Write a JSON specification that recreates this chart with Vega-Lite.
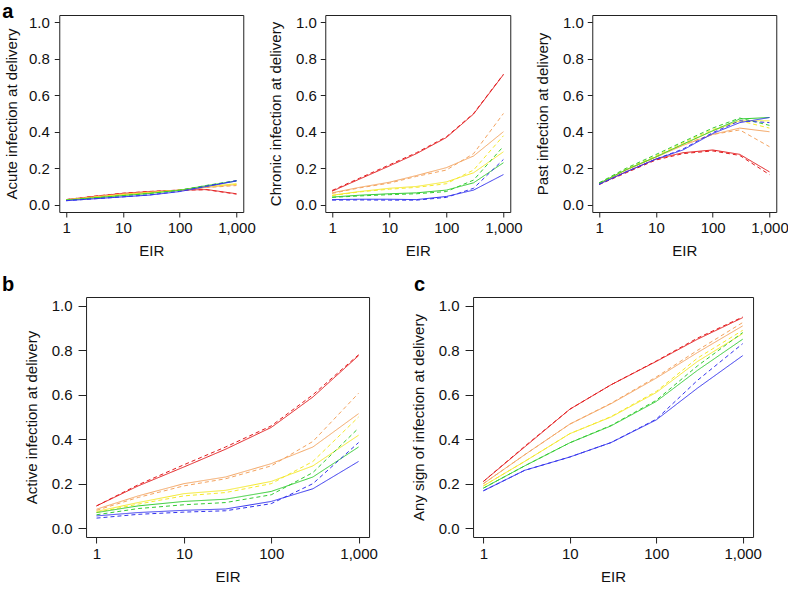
{
"$schema": "https://vega.github.io/schema/vega-lite/v6.json",
"padding": {"left": 1, "top": 1, "right": 0, "bottom": 0},
"background": "white",
"datasets": {"d": [
{"p":"A","g":"r","t":"s","x":1,"v":0.028},{"p":"A","g":"r","t":"s","x":3,"v":0.045},{"p":"A","g":"r","t":"s","x":10,"v":0.062},{"p":"A","g":"r","t":"s","x":30,"v":0.072},{"p":"A","g":"r","t":"s","x":100,"v":0.080},{"p":"A","g":"r","t":"s","x":300,"v":0.083},{"p":"A","g":"r","t":"s","x":1000,"v":0.060},
{"p":"A","g":"r","t":"d","x":1,"v":0.028},{"p":"A","g":"r","t":"d","x":3,"v":0.046},{"p":"A","g":"r","t":"d","x":10,"v":0.063},{"p":"A","g":"r","t":"d","x":30,"v":0.073},{"p":"A","g":"r","t":"d","x":100,"v":0.080},{"p":"A","g":"r","t":"d","x":300,"v":0.082},{"p":"A","g":"r","t":"d","x":1000,"v":0.058},
{"p":"A","g":"o","t":"s","x":1,"v":0.027},{"p":"A","g":"o","t":"s","x":3,"v":0.042},{"p":"A","g":"o","t":"s","x":10,"v":0.058},{"p":"A","g":"o","t":"s","x":30,"v":0.068},{"p":"A","g":"o","t":"s","x":100,"v":0.079},{"p":"A","g":"o","t":"s","x":300,"v":0.095},{"p":"A","g":"o","t":"s","x":1000,"v":0.110},
{"p":"A","g":"o","t":"d","x":1,"v":0.027},{"p":"A","g":"o","t":"d","x":3,"v":0.043},{"p":"A","g":"o","t":"d","x":10,"v":0.059},{"p":"A","g":"o","t":"d","x":30,"v":0.069},{"p":"A","g":"o","t":"d","x":100,"v":0.080},{"p":"A","g":"o","t":"d","x":300,"v":0.094},{"p":"A","g":"o","t":"d","x":1000,"v":0.105},
{"p":"A","g":"y","t":"s","x":1,"v":0.026},{"p":"A","g":"y","t":"s","x":3,"v":0.040},{"p":"A","g":"y","t":"s","x":10,"v":0.055},{"p":"A","g":"y","t":"s","x":30,"v":0.066},{"p":"A","g":"y","t":"s","x":100,"v":0.080},{"p":"A","g":"y","t":"s","x":300,"v":0.100},{"p":"A","g":"y","t":"s","x":1000,"v":0.115},
{"p":"A","g":"y","t":"d","x":1,"v":0.026},{"p":"A","g":"y","t":"d","x":3,"v":0.040},{"p":"A","g":"y","t":"d","x":10,"v":0.055},{"p":"A","g":"y","t":"d","x":30,"v":0.066},{"p":"A","g":"y","t":"d","x":100,"v":0.080},{"p":"A","g":"y","t":"d","x":300,"v":0.100},{"p":"A","g":"y","t":"d","x":1000,"v":0.112},
{"p":"A","g":"g","t":"s","x":1,"v":0.025},{"p":"A","g":"g","t":"s","x":3,"v":0.037},{"p":"A","g":"g","t":"s","x":10,"v":0.050},{"p":"A","g":"g","t":"s","x":30,"v":0.062},{"p":"A","g":"g","t":"s","x":100,"v":0.079},{"p":"A","g":"g","t":"s","x":300,"v":0.105},{"p":"A","g":"g","t":"s","x":1000,"v":0.130},
{"p":"A","g":"g","t":"d","x":1,"v":0.025},{"p":"A","g":"g","t":"d","x":3,"v":0.037},{"p":"A","g":"g","t":"d","x":10,"v":0.050},{"p":"A","g":"g","t":"d","x":30,"v":0.062},{"p":"A","g":"g","t":"d","x":100,"v":0.080},{"p":"A","g":"g","t":"d","x":300,"v":0.106},{"p":"A","g":"g","t":"d","x":1000,"v":0.132},
{"p":"A","g":"b","t":"s","x":1,"v":0.022},{"p":"A","g":"b","t":"s","x":3,"v":0.032},{"p":"A","g":"b","t":"s","x":10,"v":0.043},{"p":"A","g":"b","t":"s","x":30,"v":0.053},{"p":"A","g":"b","t":"s","x":100,"v":0.072},{"p":"A","g":"b","t":"s","x":300,"v":0.100},{"p":"A","g":"b","t":"s","x":1000,"v":0.130},
{"p":"A","g":"b","t":"d","x":1,"v":0.022},{"p":"A","g":"b","t":"d","x":3,"v":0.032},{"p":"A","g":"b","t":"d","x":10,"v":0.043},{"p":"A","g":"b","t":"d","x":30,"v":0.054},{"p":"A","g":"b","t":"d","x":100,"v":0.073},{"p":"A","g":"b","t":"d","x":300,"v":0.102},{"p":"A","g":"b","t":"d","x":1000,"v":0.132},

{"p":"C","g":"r","t":"s","x":1,"v":0.074},{"p":"C","g":"r","t":"s","x":3,"v":0.140},{"p":"C","g":"r","t":"s","x":10,"v":0.212},{"p":"C","g":"r","t":"s","x":30,"v":0.280},{"p":"C","g":"r","t":"s","x":100,"v":0.368},{"p":"C","g":"r","t":"s","x":300,"v":0.497},{"p":"C","g":"r","t":"s","x":1000,"v":0.713},
{"p":"C","g":"r","t":"d","x":1,"v":0.078},{"p":"C","g":"r","t":"d","x":3,"v":0.145},{"p":"C","g":"r","t":"d","x":10,"v":0.218},{"p":"C","g":"r","t":"d","x":30,"v":0.285},{"p":"C","g":"r","t":"d","x":100,"v":0.372},{"p":"C","g":"r","t":"d","x":300,"v":0.500},{"p":"C","g":"r","t":"d","x":1000,"v":0.715},
{"p":"C","g":"o","t":"s","x":1,"v":0.065},{"p":"C","g":"o","t":"s","x":3,"v":0.095},{"p":"C","g":"o","t":"s","x":10,"v":0.123},{"p":"C","g":"o","t":"s","x":30,"v":0.160},{"p":"C","g":"o","t":"s","x":100,"v":0.203},{"p":"C","g":"o","t":"s","x":300,"v":0.267},{"p":"C","g":"o","t":"s","x":1000,"v":0.400},
{"p":"C","g":"o","t":"d","x":1,"v":0.062},{"p":"C","g":"o","t":"d","x":3,"v":0.092},{"p":"C","g":"o","t":"d","x":10,"v":0.118},{"p":"C","g":"o","t":"d","x":30,"v":0.155},{"p":"C","g":"o","t":"d","x":100,"v":0.190},{"p":"C","g":"o","t":"d","x":300,"v":0.280},{"p":"C","g":"o","t":"d","x":1000,"v":0.500},
{"p":"C","g":"y","t":"s","x":1,"v":0.052},{"p":"C","g":"y","t":"s","x":3,"v":0.072},{"p":"C","g":"y","t":"s","x":10,"v":0.090},{"p":"C","g":"y","t":"s","x":30,"v":0.100},{"p":"C","g":"y","t":"s","x":100,"v":0.125},{"p":"C","g":"y","t":"s","x":300,"v":0.175},{"p":"C","g":"y","t":"s","x":1000,"v":0.290},
{"p":"C","g":"y","t":"d","x":1,"v":0.050},{"p":"C","g":"y","t":"d","x":3,"v":0.070},{"p":"C","g":"y","t":"d","x":10,"v":0.085},{"p":"C","g":"y","t":"d","x":30,"v":0.095},{"p":"C","g":"y","t":"d","x":100,"v":0.115},{"p":"C","g":"y","t":"d","x":300,"v":0.190},{"p":"C","g":"y","t":"d","x":1000,"v":0.378},
{"p":"C","g":"g","t":"s","x":1,"v":0.042},{"p":"C","g":"g","t":"s","x":3,"v":0.052},{"p":"C","g":"g","t":"s","x":10,"v":0.060},{"p":"C","g":"g","t":"s","x":30,"v":0.065},{"p":"C","g":"g","t":"s","x":100,"v":0.080},{"p":"C","g":"g","t":"s","x":300,"v":0.120},{"p":"C","g":"g","t":"s","x":1000,"v":0.230},
{"p":"C","g":"g","t":"d","x":1,"v":0.040},{"p":"C","g":"g","t":"d","x":3,"v":0.048},{"p":"C","g":"g","t":"d","x":10,"v":0.055},{"p":"C","g":"g","t":"d","x":30,"v":0.060},{"p":"C","g":"g","t":"d","x":100,"v":0.072},{"p":"C","g":"g","t":"d","x":300,"v":0.135},{"p":"C","g":"g","t":"d","x":1000,"v":0.320},
{"p":"C","g":"b","t":"s","x":1,"v":0.028},{"p":"C","g":"b","t":"s","x":3,"v":0.030},{"p":"C","g":"b","t":"s","x":10,"v":0.030},{"p":"C","g":"b","t":"s","x":30,"v":0.028},{"p":"C","g":"b","t":"s","x":100,"v":0.045},{"p":"C","g":"b","t":"s","x":300,"v":0.080},{"p":"C","g":"b","t":"s","x":1000,"v":0.165},
{"p":"C","g":"b","t":"d","x":1,"v":0.025},{"p":"C","g":"b","t":"d","x":3,"v":0.026},{"p":"C","g":"b","t":"d","x":10,"v":0.025},{"p":"C","g":"b","t":"d","x":30,"v":0.025},{"p":"C","g":"b","t":"d","x":100,"v":0.040},{"p":"C","g":"b","t":"d","x":300,"v":0.090},{"p":"C","g":"b","t":"d","x":1000,"v":0.248},

{"p":"P","g":"r","t":"s","x":1,"v":0.114},{"p":"P","g":"r","t":"s","x":3,"v":0.180},{"p":"P","g":"r","t":"s","x":10,"v":0.250},{"p":"P","g":"r","t":"s","x":30,"v":0.285},{"p":"P","g":"r","t":"s","x":100,"v":0.300},{"p":"P","g":"r","t":"s","x":300,"v":0.276},{"p":"P","g":"r","t":"s","x":1000,"v":0.180},
{"p":"P","g":"r","t":"d","x":1,"v":0.110},{"p":"P","g":"r","t":"d","x":3,"v":0.175},{"p":"P","g":"r","t":"d","x":10,"v":0.245},{"p":"P","g":"r","t":"d","x":30,"v":0.280},{"p":"P","g":"r","t":"d","x":100,"v":0.295},{"p":"P","g":"r","t":"d","x":300,"v":0.270},{"p":"P","g":"r","t":"d","x":1000,"v":0.165},
{"p":"P","g":"o","t":"s","x":1,"v":0.115},{"p":"P","g":"o","t":"s","x":3,"v":0.190},{"p":"P","g":"o","t":"s","x":10,"v":0.260},{"p":"P","g":"o","t":"s","x":30,"v":0.325},{"p":"P","g":"o","t":"s","x":100,"v":0.385},{"p":"P","g":"o","t":"s","x":300,"v":0.420},{"p":"P","g":"o","t":"s","x":1000,"v":0.400},
{"p":"P","g":"o","t":"d","x":1,"v":0.115},{"p":"P","g":"o","t":"d","x":3,"v":0.190},{"p":"P","g":"o","t":"d","x":10,"v":0.262},{"p":"P","g":"o","t":"d","x":30,"v":0.330},{"p":"P","g":"o","t":"d","x":100,"v":0.385},{"p":"P","g":"o","t":"d","x":300,"v":0.410},{"p":"P","g":"o","t":"d","x":1000,"v":0.318},
{"p":"P","g":"y","t":"s","x":1,"v":0.115},{"p":"P","g":"y","t":"s","x":3,"v":0.192},{"p":"P","g":"y","t":"s","x":10,"v":0.262},{"p":"P","g":"y","t":"s","x":30,"v":0.330},{"p":"P","g":"y","t":"s","x":100,"v":0.405},{"p":"P","g":"y","t":"s","x":300,"v":0.460},{"p":"P","g":"y","t":"s","x":1000,"v":0.460},
{"p":"P","g":"y","t":"d","x":1,"v":0.117},{"p":"P","g":"y","t":"d","x":3,"v":0.196},{"p":"P","g":"y","t":"d","x":10,"v":0.268},{"p":"P","g":"y","t":"d","x":30,"v":0.340},{"p":"P","g":"y","t":"d","x":100,"v":0.412},{"p":"P","g":"y","t":"d","x":300,"v":0.460},{"p":"P","g":"y","t":"d","x":1000,"v":0.420},
{"p":"P","g":"g","t":"s","x":1,"v":0.117},{"p":"P","g":"g","t":"s","x":3,"v":0.192},{"p":"P","g":"g","t":"s","x":10,"v":0.262},{"p":"P","g":"g","t":"s","x":30,"v":0.332},{"p":"P","g":"g","t":"s","x":100,"v":0.405},{"p":"P","g":"g","t":"s","x":300,"v":0.470},{"p":"P","g":"g","t":"s","x":1000,"v":0.478},
{"p":"P","g":"g","t":"d","x":1,"v":0.120},{"p":"P","g":"g","t":"d","x":3,"v":0.200},{"p":"P","g":"g","t":"d","x":10,"v":0.275},{"p":"P","g":"g","t":"d","x":30,"v":0.345},{"p":"P","g":"g","t":"d","x":100,"v":0.420},{"p":"P","g":"g","t":"d","x":300,"v":0.475},{"p":"P","g":"g","t":"d","x":1000,"v":0.435},
{"p":"P","g":"b","t":"s","x":1,"v":0.112},{"p":"P","g":"b","t":"s","x":3,"v":0.180},{"p":"P","g":"b","t":"s","x":10,"v":0.250},{"p":"P","g":"b","t":"s","x":30,"v":0.300},{"p":"P","g":"b","t":"s","x":100,"v":0.390},{"p":"P","g":"b","t":"s","x":300,"v":0.450},{"p":"P","g":"b","t":"s","x":1000,"v":0.478},
{"p":"P","g":"b","t":"d","x":1,"v":0.112},{"p":"P","g":"b","t":"d","x":3,"v":0.180},{"p":"P","g":"b","t":"d","x":10,"v":0.250},{"p":"P","g":"b","t":"d","x":30,"v":0.305},{"p":"P","g":"b","t":"d","x":100,"v":0.395},{"p":"P","g":"b","t":"d","x":300,"v":0.460},{"p":"P","g":"b","t":"d","x":1000,"v":0.450},

{"p":"B","g":"r","t":"s","x":1,"v":0.100},{"p":"B","g":"r","t":"s","x":3,"v":0.190},{"p":"B","g":"r","t":"s","x":10,"v":0.275},{"p":"B","g":"r","t":"s","x":30,"v":0.355},{"p":"B","g":"r","t":"s","x":100,"v":0.453},{"p":"B","g":"r","t":"s","x":300,"v":0.590},{"p":"B","g":"r","t":"s","x":1000,"v":0.776},
{"p":"B","g":"r","t":"d","x":1,"v":0.100},{"p":"B","g":"r","t":"d","x":3,"v":0.195},{"p":"B","g":"r","t":"d","x":10,"v":0.285},{"p":"B","g":"r","t":"d","x":30,"v":0.365},{"p":"B","g":"r","t":"d","x":100,"v":0.460},{"p":"B","g":"r","t":"d","x":300,"v":0.600},{"p":"B","g":"r","t":"d","x":1000,"v":0.780},
{"p":"B","g":"o","t":"s","x":1,"v":0.085},{"p":"B","g":"o","t":"s","x":3,"v":0.145},{"p":"B","g":"o","t":"s","x":10,"v":0.200},{"p":"B","g":"o","t":"s","x":30,"v":0.230},{"p":"B","g":"o","t":"s","x":100,"v":0.290},{"p":"B","g":"o","t":"s","x":300,"v":0.365},{"p":"B","g":"o","t":"s","x":1000,"v":0.515},
{"p":"B","g":"o","t":"d","x":1,"v":0.080},{"p":"B","g":"o","t":"d","x":3,"v":0.138},{"p":"B","g":"o","t":"d","x":10,"v":0.190},{"p":"B","g":"o","t":"d","x":30,"v":0.222},{"p":"B","g":"o","t":"d","x":100,"v":0.280},{"p":"B","g":"o","t":"d","x":300,"v":0.390},{"p":"B","g":"o","t":"d","x":1000,"v":0.607},
{"p":"B","g":"y","t":"s","x":1,"v":0.075},{"p":"B","g":"y","t":"s","x":3,"v":0.115},{"p":"B","g":"y","t":"s","x":10,"v":0.155},{"p":"B","g":"y","t":"s","x":30,"v":0.170},{"p":"B","g":"y","t":"s","x":100,"v":0.210},{"p":"B","g":"y","t":"s","x":300,"v":0.280},{"p":"B","g":"y","t":"s","x":1000,"v":0.418},
{"p":"B","g":"y","t":"d","x":1,"v":0.070},{"p":"B","g":"y","t":"d","x":3,"v":0.108},{"p":"B","g":"y","t":"d","x":10,"v":0.145},{"p":"B","g":"y","t":"d","x":30,"v":0.160},{"p":"B","g":"y","t":"d","x":100,"v":0.200},{"p":"B","g":"y","t":"d","x":300,"v":0.300},{"p":"B","g":"y","t":"d","x":1000,"v":0.500},
{"p":"B","g":"g","t":"s","x":1,"v":0.070},{"p":"B","g":"g","t":"s","x":3,"v":0.100},{"p":"B","g":"g","t":"s","x":10,"v":0.120},{"p":"B","g":"g","t":"s","x":30,"v":0.130},{"p":"B","g":"g","t":"s","x":100,"v":0.165},{"p":"B","g":"g","t":"s","x":300,"v":0.230},{"p":"B","g":"g","t":"s","x":1000,"v":0.365},
{"p":"B","g":"g","t":"d","x":1,"v":0.060},{"p":"B","g":"g","t":"d","x":3,"v":0.088},{"p":"B","g":"g","t":"d","x":10,"v":0.105},{"p":"B","g":"g","t":"d","x":30,"v":0.115},{"p":"B","g":"g","t":"d","x":100,"v":0.150},{"p":"B","g":"g","t":"d","x":300,"v":0.250},{"p":"B","g":"g","t":"d","x":1000,"v":0.450},
{"p":"B","g":"b","t":"s","x":1,"v":0.055},{"p":"B","g":"b","t":"s","x":3,"v":0.070},{"p":"B","g":"b","t":"s","x":10,"v":0.080},{"p":"B","g":"b","t":"s","x":30,"v":0.086},{"p":"B","g":"b","t":"s","x":100,"v":0.120},{"p":"B","g":"b","t":"s","x":300,"v":0.177},{"p":"B","g":"b","t":"s","x":1000,"v":0.300},
{"p":"B","g":"b","t":"d","x":1,"v":0.045},{"p":"B","g":"b","t":"d","x":3,"v":0.062},{"p":"B","g":"b","t":"d","x":10,"v":0.072},{"p":"B","g":"b","t":"d","x":30,"v":0.078},{"p":"B","g":"b","t":"d","x":100,"v":0.110},{"p":"B","g":"b","t":"d","x":300,"v":0.200},{"p":"B","g":"b","t":"d","x":1000,"v":0.385},

{"p":"S","g":"r","t":"s","x":1,"v":0.210},{"p":"S","g":"r","t":"s","x":3,"v":0.365},{"p":"S","g":"r","t":"s","x":10,"v":0.535},{"p":"S","g":"r","t":"s","x":30,"v":0.645},{"p":"S","g":"r","t":"s","x":100,"v":0.750},{"p":"S","g":"r","t":"s","x":300,"v":0.850},{"p":"S","g":"r","t":"s","x":1000,"v":0.947},
{"p":"S","g":"r","t":"d","x":1,"v":0.210},{"p":"S","g":"r","t":"d","x":3,"v":0.368},{"p":"S","g":"r","t":"d","x":10,"v":0.535},{"p":"S","g":"r","t":"d","x":30,"v":0.645},{"p":"S","g":"r","t":"d","x":100,"v":0.752},{"p":"S","g":"r","t":"d","x":300,"v":0.855},{"p":"S","g":"r","t":"d","x":1000,"v":0.950},
{"p":"S","g":"o","t":"s","x":1,"v":0.200},{"p":"S","g":"o","t":"s","x":3,"v":0.330},{"p":"S","g":"o","t":"s","x":10,"v":0.468},{"p":"S","g":"o","t":"s","x":30,"v":0.560},{"p":"S","g":"o","t":"s","x":100,"v":0.675},{"p":"S","g":"o","t":"s","x":300,"v":0.790},{"p":"S","g":"o","t":"s","x":1000,"v":0.910},
{"p":"S","g":"o","t":"d","x":1,"v":0.200},{"p":"S","g":"o","t":"d","x":3,"v":0.330},{"p":"S","g":"o","t":"d","x":10,"v":0.468},{"p":"S","g":"o","t":"d","x":30,"v":0.562},{"p":"S","g":"o","t":"d","x":100,"v":0.680},{"p":"S","g":"o","t":"d","x":300,"v":0.800},{"p":"S","g":"o","t":"d","x":1000,"v":0.925},
{"p":"S","g":"y","t":"s","x":1,"v":0.190},{"p":"S","g":"y","t":"s","x":3,"v":0.300},{"p":"S","g":"y","t":"s","x":10,"v":0.425},{"p":"S","g":"y","t":"s","x":30,"v":0.500},{"p":"S","g":"y","t":"s","x":100,"v":0.610},{"p":"S","g":"y","t":"s","x":300,"v":0.750},{"p":"S","g":"y","t":"s","x":1000,"v":0.875},
{"p":"S","g":"y","t":"d","x":1,"v":0.190},{"p":"S","g":"y","t":"d","x":3,"v":0.300},{"p":"S","g":"y","t":"d","x":10,"v":0.425},{"p":"S","g":"y","t":"d","x":30,"v":0.502},{"p":"S","g":"y","t":"d","x":100,"v":0.615},{"p":"S","g":"y","t":"d","x":300,"v":0.765},{"p":"S","g":"y","t":"d","x":1000,"v":0.890},
{"p":"S","g":"g","t":"s","x":1,"v":0.180},{"p":"S","g":"g","t":"s","x":3,"v":0.280},{"p":"S","g":"g","t":"s","x":10,"v":0.384},{"p":"S","g":"g","t":"s","x":30,"v":0.460},{"p":"S","g":"g","t":"s","x":100,"v":0.570},{"p":"S","g":"g","t":"s","x":300,"v":0.710},{"p":"S","g":"g","t":"s","x":1000,"v":0.850},
{"p":"S","g":"g","t":"d","x":1,"v":0.180},{"p":"S","g":"g","t":"d","x":3,"v":0.280},{"p":"S","g":"g","t":"d","x":10,"v":0.384},{"p":"S","g":"g","t":"d","x":30,"v":0.462},{"p":"S","g":"g","t":"d","x":100,"v":0.575},{"p":"S","g":"g","t":"d","x":300,"v":0.730},{"p":"S","g":"g","t":"d","x":1000,"v":0.880},
{"p":"S","g":"b","t":"s","x":1,"v":0.168},{"p":"S","g":"b","t":"s","x":3,"v":0.260},{"p":"S","g":"b","t":"s","x":10,"v":0.320},{"p":"S","g":"b","t":"s","x":30,"v":0.385},{"p":"S","g":"b","t":"s","x":100,"v":0.487},{"p":"S","g":"b","t":"s","x":300,"v":0.630},{"p":"S","g":"b","t":"s","x":1000,"v":0.776},
{"p":"S","g":"b","t":"d","x":1,"v":0.168},{"p":"S","g":"b","t":"d","x":3,"v":0.260},{"p":"S","g":"b","t":"d","x":10,"v":0.320},{"p":"S","g":"b","t":"d","x":30,"v":0.385},{"p":"S","g":"b","t":"d","x":100,"v":0.490},{"p":"S","g":"b","t":"d","x":300,"v":0.665},{"p":"S","g":"b","t":"d","x":1000,"v":0.830}
]},
"config": {
  "view": {"stroke": "#222", "strokeWidth": 1},
  "axis": {"grid": false, "domain": false, "labelFont": "Liberation Sans", "titleFont": "Liberation Sans", "labelFontSize": 15, "titleFontSize": 15, "titleFontWeight": "normal", "labelColor": "#111", "titleColor": "#111", "tickColor": "#222", "labelFlush": false, "labelOverlap": false},
  "title": {"font": "Liberation Sans", "fontSize": 20, "fontWeight": "bold", "anchor": "start", "frame": "group", "offset": 2, "baseline": "alphabetic", "color": "#000"},
  "line": {"strokeWidth": 1}
},
"spacing": 15,
"bounds": "full",
"center": true,
"vconcat": [
 {"hconcat": [
  {"width": 184, "height": 197, "title": {"text": "a", "dx": -57, "dy": 8.7},
   "data": {"name": "d"}, "transform": [{"filter": "datum.p === 'A'"}],
   "mark": {"type": "line", "strokeWidth": 1},
   "encoding": {
    "x": {"field": "x", "type": "quantitative", "scale": {"type": "log", "domain": [0.7586, 1318.3], "nice": false}, "axis": {"title": "EIR", "values": [1, 10, 100, 1000], "format": ",", "tickSize": 5, "labelPadding": 3, "titlePadding": 8}},
    "y": {"field": "v", "type": "quantitative", "scale": {"domain": [-0.04, 1.04], "nice": false, "zero": false}, "axis": {"title": "Acute infection at delivery", "values": [0, 0.2, 0.4, 0.6, 0.8, 1], "format": ".1f", "tickSize": 5, "labelPadding": 5, "titlePadding": 9}},
    "color": {"field": "g", "type": "nominal", "scale": {"domain": ["r", "o", "y", "g", "b"], "range": ["#e31a1c", "#f4a460", "#f5e92a", "#33cc33", "#3333ee"]}, "legend": null},
    "strokeDash": {"field": "t", "type": "nominal", "scale": {"domain": ["s", "d"], "range": [[1, 0], [4, 3]]}, "legend": null}
   }},
  {"width": 185, "height": 197,
   "data": {"name": "d"}, "transform": [{"filter": "datum.p === 'C'"}],
   "mark": {"type": "line", "strokeWidth": 1},
   "encoding": {
    "x": {"field": "x", "type": "quantitative", "scale": {"type": "log", "domain": [0.7586, 1318.3], "nice": false}, "axis": {"title": "EIR", "values": [1, 10, 100, 1000], "format": ",", "tickSize": 5, "labelPadding": 3, "titlePadding": 8}},
    "y": {"field": "v", "type": "quantitative", "scale": {"domain": [-0.04, 1.04], "nice": false, "zero": false}, "axis": {"title": "Chronic infection at delivery", "values": [0, 0.2, 0.4, 0.6, 0.8, 1], "format": ".1f", "tickSize": 5, "labelPadding": 4, "titlePadding": 12}},
    "color": {"field": "g", "type": "nominal", "scale": {"domain": ["r", "o", "y", "g", "b"], "range": ["#e31a1c", "#f4a460", "#f5e92a", "#33cc33", "#3333ee"]}, "legend": null},
    "strokeDash": {"field": "t", "type": "nominal", "scale": {"domain": ["s", "d"], "range": [[1, 0], [4, 3]]}, "legend": null}
   }},
  {"width": 184, "height": 197,
   "data": {"name": "d"}, "transform": [{"filter": "datum.p === 'P'"}],
   "mark": {"type": "line", "strokeWidth": 1},
   "encoding": {
    "x": {"field": "x", "type": "quantitative", "scale": {"type": "log", "domain": [0.7586, 1318.3], "nice": false}, "axis": {"title": "EIR", "values": [1, 10, 100, 1000], "format": ",", "tickSize": 5, "labelPadding": 3, "titlePadding": 8}},
    "y": {"field": "v", "type": "quantitative", "scale": {"domain": [-0.04, 1.04], "nice": false, "zero": false}, "axis": {"title": "Past infection at delivery", "values": [0, 0.2, 0.4, 0.6, 0.8, 1], "format": ".1f", "tickSize": 5, "labelPadding": 4, "titlePadding": 12}},
    "color": {"field": "g", "type": "nominal", "scale": {"domain": ["r", "o", "y", "g", "b"], "range": ["#e31a1c", "#f4a460", "#f5e92a", "#33cc33", "#3333ee"]}, "legend": null},
    "strokeDash": {"field": "t", "type": "nominal", "scale": {"domain": ["s", "d"], "range": [[1, 0], [4, 3]]}, "legend": null}
   }}
 ], "spacing": 11, "bounds": "full"},
 {"hconcat": [
  {"width": 283, "height": 240, "title": {"text": "b", "dx": -84},
   "data": {"name": "d"}, "transform": [{"filter": "datum.p === 'B'"}],
   "mark": {"type": "line", "strokeWidth": 1},
   "encoding": {
    "x": {"field": "x", "type": "quantitative", "scale": {"type": "log", "domain": [0.7586, 1318.3], "nice": false}, "axis": {"title": "EIR", "values": [1, 10, 100, 1000], "format": ",", "tickSize": 6, "labelPadding": 3, "titlePadding": 8}},
    "y": {"field": "v", "type": "quantitative", "scale": {"domain": [-0.04, 1.04], "nice": false, "zero": false}, "axis": {"title": "Active infection at delivery", "values": [0, 0.2, 0.4, 0.6, 0.8, 1], "format": ".1f", "tickSize": 8, "labelPadding": 6, "titlePadding": 12}},
    "color": {"field": "g", "type": "nominal", "scale": {"domain": ["r", "o", "y", "g", "b"], "range": ["#e31a1c", "#f4a460", "#f5e92a", "#33cc33", "#3333ee"]}, "legend": null},
    "strokeDash": {"field": "t", "type": "nominal", "scale": {"domain": ["s", "d"], "range": [[1, 0], [4, 3]]}, "legend": null}
   }},
  {"width": 280, "height": 240, "title": {"text": "c", "dx": -59},
   "data": {"name": "d"}, "transform": [{"filter": "datum.p === 'S'"}],
   "mark": {"type": "line", "strokeWidth": 1},
   "encoding": {
    "x": {"field": "x", "type": "quantitative", "scale": {"type": "log", "domain": [0.7586, 1318.3], "nice": false}, "axis": {"title": "EIR", "values": [1, 10, 100, 1000], "format": ",", "tickSize": 6, "labelPadding": 3, "titlePadding": 8}},
    "y": {"field": "v", "type": "quantitative", "scale": {"domain": [-0.04, 1.04], "nice": false, "zero": false}, "axis": {"title": "Any sign of infection at delivery", "values": [0, 0.2, 0.4, 0.6, 0.8, 1], "format": ".1f", "tickSize": 8, "labelPadding": 6, "titlePadding": 11.5}},
    "color": {"field": "g", "type": "nominal", "scale": {"domain": ["r", "o", "y", "g", "b"], "range": ["#e31a1c", "#f4a460", "#f5e92a", "#33cc33", "#3333ee"]}, "legend": null},
    "strokeDash": {"field": "t", "type": "nominal", "scale": {"domain": ["s", "d"], "range": [[1, 0], [4, 3]]}, "legend": null}
   }}
 ], "spacing": 33, "bounds": "full"}
]
}
